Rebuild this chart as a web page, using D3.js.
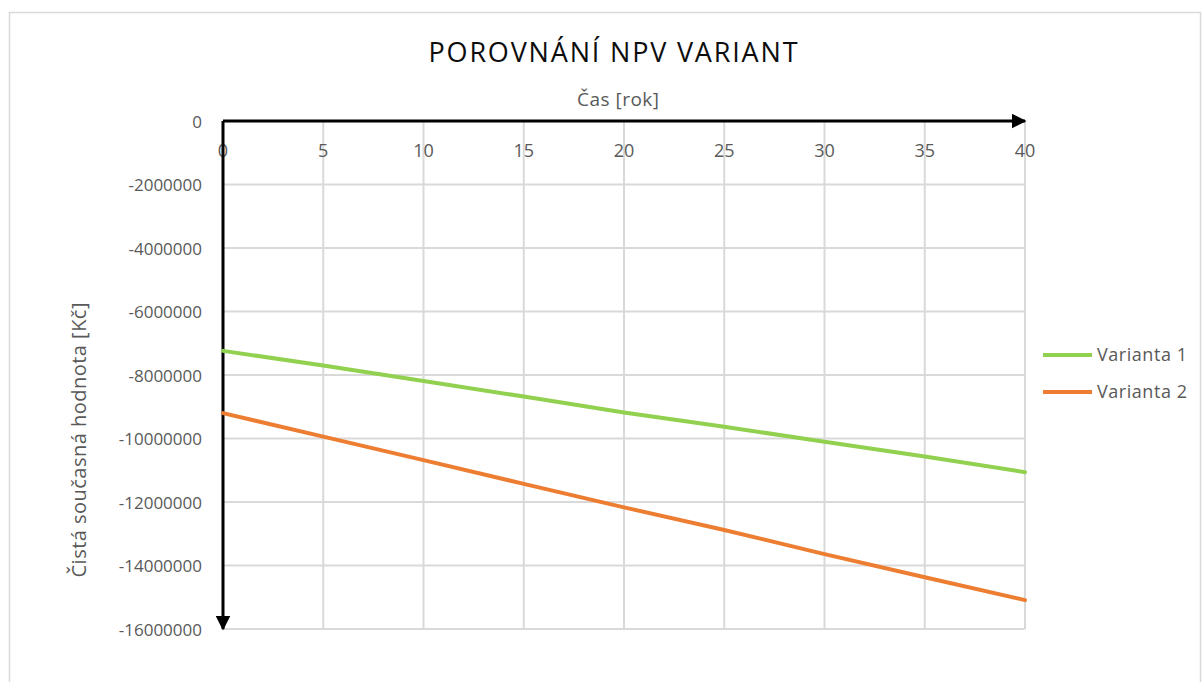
<!DOCTYPE html>
<html>
<head>
<meta charset="utf-8">
<script src="https://cdn.jsdelivr.net/npm/d3@7"></script>
<style>
  body { margin: 0; background: #fff; }
  svg { display: block; font-family: "Open Sans", "Liberation Sans", sans-serif; }
</style>
</head>
<body>
<script>
// data (values in Kč)
const years = [0, 5, 10, 15, 20, 25, 30, 35, 40];
const varianta1 = [-7240000, -7700000, -8190000, -8680000, -9180000, -9630000, -10100000, -10570000, -11060000];
const varianta2 = [-9200000, -9940000, -10680000, -11430000, -12170000, -12880000, -13640000, -14370000, -15090000];
const seriesNames = ["Varianta 1", "Varianta 2"];
const seriesColors = ["#92d050", "#ed7d31"];
const xTicks = [0, 5, 10, 15, 20, 25, 30, 35, 40];
const yTicks = [0, -2000000, -4000000, -6000000, -8000000, -10000000, -12000000, -14000000, -16000000];

const width = 1203;
const height = 682;
const plot = { left: 223, right: 1025, top: 121, bottom: 629 };

const svg = d3.select("body")
  .append("svg")
  .attr("width", width)
  .attr("height", height);

// chart border
svg.append("rect")
  .attr("x", 9.5).attr("y", 12.5)
  .attr("width", 1191).attr("height", 690)
  .attr("fill", "none")
  .attr("stroke", "#d9d9d9")
  .attr("stroke-width", 1.5);

const x = d3.scaleLinear().domain([0, 40]).range([plot.left, plot.right]);
const y = d3.scaleLinear().domain([0, -16000000]).range([plot.top, plot.bottom]);

// gridlines
svg.append("g")
  .selectAll("line")
  .data(xTicks)
  .enter().append("line")
  .attr("x1", d => x(d)).attr("x2", d => x(d))
  .attr("y1", plot.top).attr("y2", plot.bottom)
  .attr("stroke", "#d9d9d9").attr("stroke-width", 2);

svg.append("g")
  .selectAll("line")
  .data(yTicks)
  .enter().append("line")
  .attr("x1", plot.left).attr("x2", plot.right)
  .attr("y1", d => y(d)).attr("y2", d => y(d))
  .attr("stroke", "#d9d9d9").attr("stroke-width", 2);

// tick labels
svg.append("g")
  .selectAll("text")
  .data(xTicks)
  .enter().append("text")
  .attr("x", d => x(d))
  .attr("y", 157)
  .attr("text-anchor", "middle")
  .attr("font-size", "18px")
  .attr("fill", "#595959")
  .text(d => d);

svg.append("g")
  .selectAll("text")
  .data(yTicks)
  .enter().append("text")
  .attr("x", 202)
  .attr("y", d => y(d) + 6.5)
  .attr("text-anchor", "end")
  .attr("font-size", "17px")
  .attr("fill", "#595959")
  .text(d => d);

// axis arrows
const defs = svg.append("defs");
defs.append("marker")
  .attr("id", "arrow")
  .attr("viewBox", "0 0 10 10")
  .attr("refX", 9).attr("refY", 5)
  .attr("markerWidth", 5).attr("markerHeight", 5)
  .attr("markerUnits", "strokeWidth")
  .attr("orient", "auto")
  .append("path")
  .attr("d", "M0,0 L10,5 L0,10 Z")
  .attr("fill", "#000");

svg.append("line")
  .attr("x1", plot.left).attr("x2", plot.right)
  .attr("y1", plot.top).attr("y2", plot.top)
  .attr("stroke", "#000").attr("stroke-width", 3)
  .attr("marker-end", "url(#arrow)");

svg.append("line")
  .attr("x1", plot.left).attr("x2", plot.left)
  .attr("y1", plot.top).attr("y2", plot.bottom)
  .attr("stroke", "#000").attr("stroke-width", 3)
  .attr("marker-end", "url(#arrow)");

// series
const line = d3.line()
  .x((d, i) => x(years[i]))
  .y(d => y(d));

[varianta1, varianta2].forEach((vals, i) => {
  svg.append("path")
    .datum(vals)
    .attr("d", line)
    .attr("fill", "none")
    .attr("stroke", seriesColors[i])
    .attr("stroke-width", 4)
    .attr("stroke-linecap", "round");
});

// titles
svg.append("text")
  .attr("x", 613).attr("y", 62)
  .attr("text-anchor", "middle")
  .attr("font-size", "27px")
  .attr("textLength", 369)
  .attr("lengthAdjust", "spacing")
  .attr("fill", "#0d0d0d")
  .text("POROVNÁNÍ NPV VARIANT");

svg.append("text")
  .attr("x", 618).attr("y", 106)
  .attr("text-anchor", "middle")
  .attr("font-size", "19px")
  .attr("textLength", 82)
  .attr("lengthAdjust", "spacing")
  .attr("fill", "#595959")
  .text("Čas [rok]");

svg.append("text")
  .attr("transform", "translate(86, 440) rotate(-90)")
  .attr("text-anchor", "middle")
  .attr("font-size", "20px")
  .attr("textLength", 275)
  .attr("lengthAdjust", "spacing")
  .attr("fill", "#595959")
  .text("Čistá současná hodnota [Kč]");

// legend
const legend = svg.append("g");
seriesNames.forEach((name, i) => {
  const ly = 355 + i * 37;
  legend.append("line")
    .attr("x1", 1043).attr("x2", 1092)
    .attr("y1", ly).attr("y2", ly)
    .attr("stroke", seriesColors[i]).attr("stroke-width", 4);
  legend.append("text")
    .attr("x", 1097).attr("y", ly + 6)
    .attr("font-size", "18px")
    .attr("textLength", 90)
    .attr("lengthAdjust", "spacing")
    .attr("fill", "#595959")
    .text(name);
});
</script>
</body>
</html>
